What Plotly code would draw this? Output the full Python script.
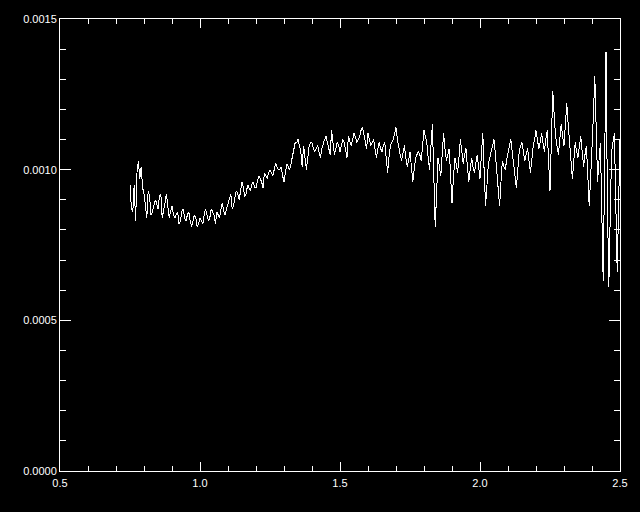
import plotly.graph_objects as go

# Wavelength samples on the main grid
wavelength = [
    0.75, 0.76, 0.77, 0.78, 0.79,
    0.80, 0.81, 0.82, 0.83, 0.84, 0.85, 0.86, 0.87, 0.88, 0.89,
    0.90, 0.91, 0.92, 0.93, 0.94, 0.95, 0.96, 0.97, 0.98, 0.99,
    1.00, 1.01, 1.02, 1.03, 1.04, 1.05, 1.06, 1.07, 1.08, 1.09,
    1.10, 1.11, 1.12, 1.13, 1.14, 1.15, 1.16, 1.17, 1.18, 1.19,
    1.20, 1.21, 1.22, 1.23, 1.24, 1.25, 1.26, 1.27, 1.28, 1.29,
    1.30, 1.31, 1.32, 1.33, 1.34, 1.35, 1.36, 1.37, 1.38, 1.39,
    1.40, 1.41, 1.42, 1.43, 1.44, 1.45, 1.46, 1.47, 1.48, 1.49,
    1.50, 1.51, 1.52, 1.53, 1.54, 1.55, 1.56, 1.57, 1.58, 1.59,
    1.60, 1.61, 1.62, 1.63, 1.64, 1.65, 1.66, 1.67, 1.68, 1.69,
    1.70, 1.71, 1.72, 1.73, 1.74, 1.75, 1.76, 1.77, 1.78, 1.79,
    1.80, 1.81, 1.82, 1.83, 1.84, 1.85, 1.86, 1.87, 1.88, 1.89,
    1.90, 1.91, 1.92, 1.93, 1.94, 1.95, 1.96, 1.97, 1.98, 1.99,
    2.00, 2.01, 2.02, 2.03, 2.04, 2.05, 2.06, 2.07, 2.08, 2.09,
    2.10, 2.11, 2.12, 2.13, 2.14, 2.15, 2.16, 2.17, 2.18, 2.19,
    2.20, 2.21, 2.22, 2.23, 2.24, 2.25, 2.26, 2.27, 2.28, 2.29,
    2.30, 2.31, 2.32, 2.33, 2.34, 2.35, 2.36, 2.37, 2.38, 2.39,
    2.40, 2.41, 2.42, 2.43, 2.44, 2.45, 2.46, 2.47, 2.48, 2.49, 2.50,
]

# Flux at those wavelengths, in units of 1e-4
flux_1e4 = [
    9.5, 8.6, 8.3, 10.3, 10.1,
    9.2, 8.4, 9.1, 8.6, 9.0, 8.7, 9.2, 8.6, 9.2, 8.4,
    8.8, 8.4, 8.6, 8.3, 8.7, 8.3, 8.6, 8.1, 8.5, 8.1,
    8.4, 8.2, 8.7, 8.3, 8.7, 8.5, 8.6, 8.4, 8.9, 8.5,
    8.9, 9.2, 8.8, 9.3, 9.0, 9.6, 9.1, 9.5, 9.3, 9.6,
    9.4, 9.8, 9.6, 9.9, 9.7, 10.0, 9.8, 10.2, 10.0, 10.1,
    9.6, 10.2, 10.0, 10.4, 10.9, 11.0, 10.6, 10.8, 10.0, 10.8,
    10.9, 10.6, 10.8, 10.4, 10.9, 11.1, 10.7, 11.3, 10.5, 10.9,
    10.6, 11.0, 10.7, 11.1, 10.8, 11.2, 10.9, 11.1, 11.4, 11.0,
    11.2, 10.8, 11.0, 10.4, 10.9, 10.6, 10.9, 9.9, 10.8, 11.0,
    11.4, 10.7, 10.3, 10.8, 10.1, 10.6, 9.6, 10.4, 10.6, 10.3,
    11.3, 10.9, 10.0, 11.5, 8.1, 10.4, 9.8, 11.2, 10.3, 10.7,
    8.9, 10.4, 9.9, 11.0, 10.2, 10.7, 9.6, 10.4, 9.9, 10.5,
    9.7, 11.2, 8.8, 10.2, 10.6, 11.0, 9.9, 8.8, 10.3, 10.0,
    10.6, 11.0, 10.2, 9.4, 10.6, 10.9, 10.3, 10.7, 9.9, 10.8,
    11.3, 10.7, 11.2, 10.6, 11.3, 9.3, 12.6, 11.1, 10.5, 11.5,
    10.8, 12.2, 10.9, 9.7, 10.9, 10.4, 11.1, 10.1, 10.8, 8.8,
    10.6, 13.1, 9.6, 10.9, 6.3, 13.9, 6.1, 10.6, 11.2, 6.6, 11.0,
]

wavelength_mid = [
    0.755, 0.765, 0.775, 0.785, 0.795,
    0.805, 0.815, 0.825, 0.835, 0.845, 0.855, 0.865, 0.875, 0.885, 0.895,
    0.905, 0.915, 0.925, 0.935, 0.945, 0.955, 0.965, 0.975, 0.985, 0.995,
    1.005, 1.015, 1.025, 1.035, 1.045, 1.055, 1.065, 1.075, 1.085, 1.095,
    1.105, 1.115, 1.125, 1.135, 1.145, 1.155, 1.165, 1.175, 1.185, 1.195,
    1.205, 1.215, 1.225, 1.235, 1.245, 1.255, 1.265, 1.275, 1.285, 1.295,
    1.305, 1.315, 1.325, 1.335, 1.345, 1.355, 1.365, 1.375, 1.385, 1.395,
    1.405, 1.415, 1.425, 1.435, 1.445, 1.455, 1.465, 1.475, 1.485, 1.495,
    1.505, 1.515, 1.525, 1.535, 1.545, 1.555, 1.565, 1.575, 1.585, 1.595,
    1.605, 1.615, 1.625, 1.635, 1.645, 1.655, 1.665, 1.675, 1.685, 1.695,
    1.705, 1.715, 1.725, 1.735, 1.745, 1.755, 1.765, 1.775, 1.785, 1.795,
    1.805, 1.815, 1.825, 1.835, 1.845, 1.855, 1.865, 1.875, 1.885, 1.895,
    1.905, 1.915, 1.925, 1.935, 1.945, 1.955, 1.965, 1.975, 1.985, 1.995,
    2.005, 2.015, 2.025, 2.035, 2.045, 2.055, 2.065, 2.075, 2.085, 2.095,
    2.105, 2.115, 2.125, 2.135, 2.145, 2.155, 2.165, 2.175, 2.185, 2.195,
    2.205, 2.215, 2.225, 2.235, 2.245, 2.255, 2.265, 2.275, 2.285, 2.295,
    2.305, 2.315, 2.325, 2.335, 2.345, 2.355, 2.365, 2.375, 2.385, 2.395,
    2.405, 2.415, 2.425, 2.435, 2.445, 2.455, 2.465, 2.475, 2.485, 2.495,
]

flux_mid_1e4 = [
    8.7, 9.5, 9.9, 9.7, 9.4,
    8.7, 9.3, 8.5, 8.8, 8.9, 9.1, 8.4, 8.9, 8.7, 8.6,
    8.5, 8.5, 8.2, 8.6, 8.4, 8.5, 8.3, 8.3, 8.4, 8.2,
    8.3, 8.5, 8.5, 8.4, 8.6, 8.2, 8.5, 8.7, 8.6, 8.7,
    9.0, 8.7, 9.1, 9.2, 9.3, 9.4, 9.2, 9.4, 9.5, 9.4,
    9.6, 9.7, 9.4, 9.8, 9.9, 9.9, 10.0, 10.1, 10.0, 9.8,
    9.9, 10.1, 10.2, 10.7, 10.9, 10.8, 10.1, 10.4, 10.4, 10.9,
    10.7, 10.7, 10.6, 10.7, 11.0, 10.9, 10.5, 10.9, 10.7, 10.8,
    10.8, 10.9, 10.4, 10.9, 11.0, 11.1, 11.0, 11.3, 11.2, 10.7,
    11.0, 10.9, 10.7, 10.7, 10.7, 10.8, 10.4, 10.4, 10.9, 11.2,
    11.0, 10.5, 10.6, 10.4, 10.3, 10.1, 10.0, 10.5, 10.5, 10.8,
    11.1, 10.4, 10.8, 9.8, 9.2, 10.1, 10.5, 10.7, 10.5, 9.8,
    9.7, 10.2, 10.4, 10.6, 10.5, 10.1, 10.0, 10.1, 10.2, 10.1,
    10.5, 9.9, 9.5, 10.4, 10.8, 10.5, 9.3, 9.6, 10.1, 10.3,
    10.8, 10.6, 9.8, 10.0, 10.8, 10.6, 10.5, 10.3, 10.3, 11.0,
    11.0, 10.9, 10.9, 11.0, 10.3, 11.0, 11.8, 10.8, 11.0, 11.1,
    11.5, 11.5, 10.3, 10.3, 10.6, 10.8, 10.6, 10.5, 9.8, 9.7,
    11.8, 11.3, 10.3, 8.6, 10.1, 9.0, 8.4, 10.9, 8.9, 8.8,
]

# Interleave the two sample sets in wavelength order
x_vals, y_vals = [], []
for i, (w, f) in enumerate(zip(wavelength, flux_1e4)):
    x_vals.append(w)
    y_vals.append(f * 1e-4)
    if i < len(wavelength_mid):
        x_vals.append(wavelength_mid[i])
        y_vals.append(flux_mid_1e4[i] * 1e-4)

fig = go.Figure(
    go.Scatter(
        x=x_vals,
        y=y_vals,
        mode="lines",
        line=dict(color="white", width=1),
        hoverinfo="skip",
    )
)

fig.update_layout(
    width=640,
    height=512,
    margin=dict(l=60, r=18, t=19, b=41),
    paper_bgcolor="black",
    plot_bgcolor="black",
    showlegend=False,
    font=dict(family="Liberation Sans", size=11, color="white"),
)

fig.update_xaxes(
    range=[0.5, 2.5],
    tick0=0.5,
    dtick=0.5,
    tickformat=".1f",
    showgrid=False,
    zeroline=False,
    showline=True,
    linecolor="white",
    linewidth=1,
    mirror="ticks",
    ticks="inside",
    ticklen=9,
    tickwidth=1,
    tickcolor="white",
    ticklabelstandoff=2,
    minor=dict(dtick=0.1, tick0=0.5, ticks="inside", ticklen=5,
               tickwidth=1, tickcolor="white", showgrid=False),
)

fig.update_yaxes(
    range=[0, 0.0015],
    tick0=0,
    dtick=0.0005,
    tickformat=".4f",
    showgrid=False,
    zeroline=False,
    showline=True,
    linecolor="white",
    linewidth=1,
    mirror="ticks",
    ticks="inside",
    ticklen=11,
    tickwidth=1,
    tickcolor="white",
    minor=dict(dtick=0.0001, tick0=0, ticks="inside", ticklen=6,
               tickwidth=1, tickcolor="white", showgrid=False),
)

fig.write_html(
    "out.html",
    config={"displayModeBar": False},
    post_script=(
        "document.body.style.margin='0';"
        "document.body.style.background='black';"
        "document.head.insertAdjacentHTML('beforeend',"
        "'<style>.scatterlayer path{shape-rendering:crispEdges}</style>');"
    ),
)
